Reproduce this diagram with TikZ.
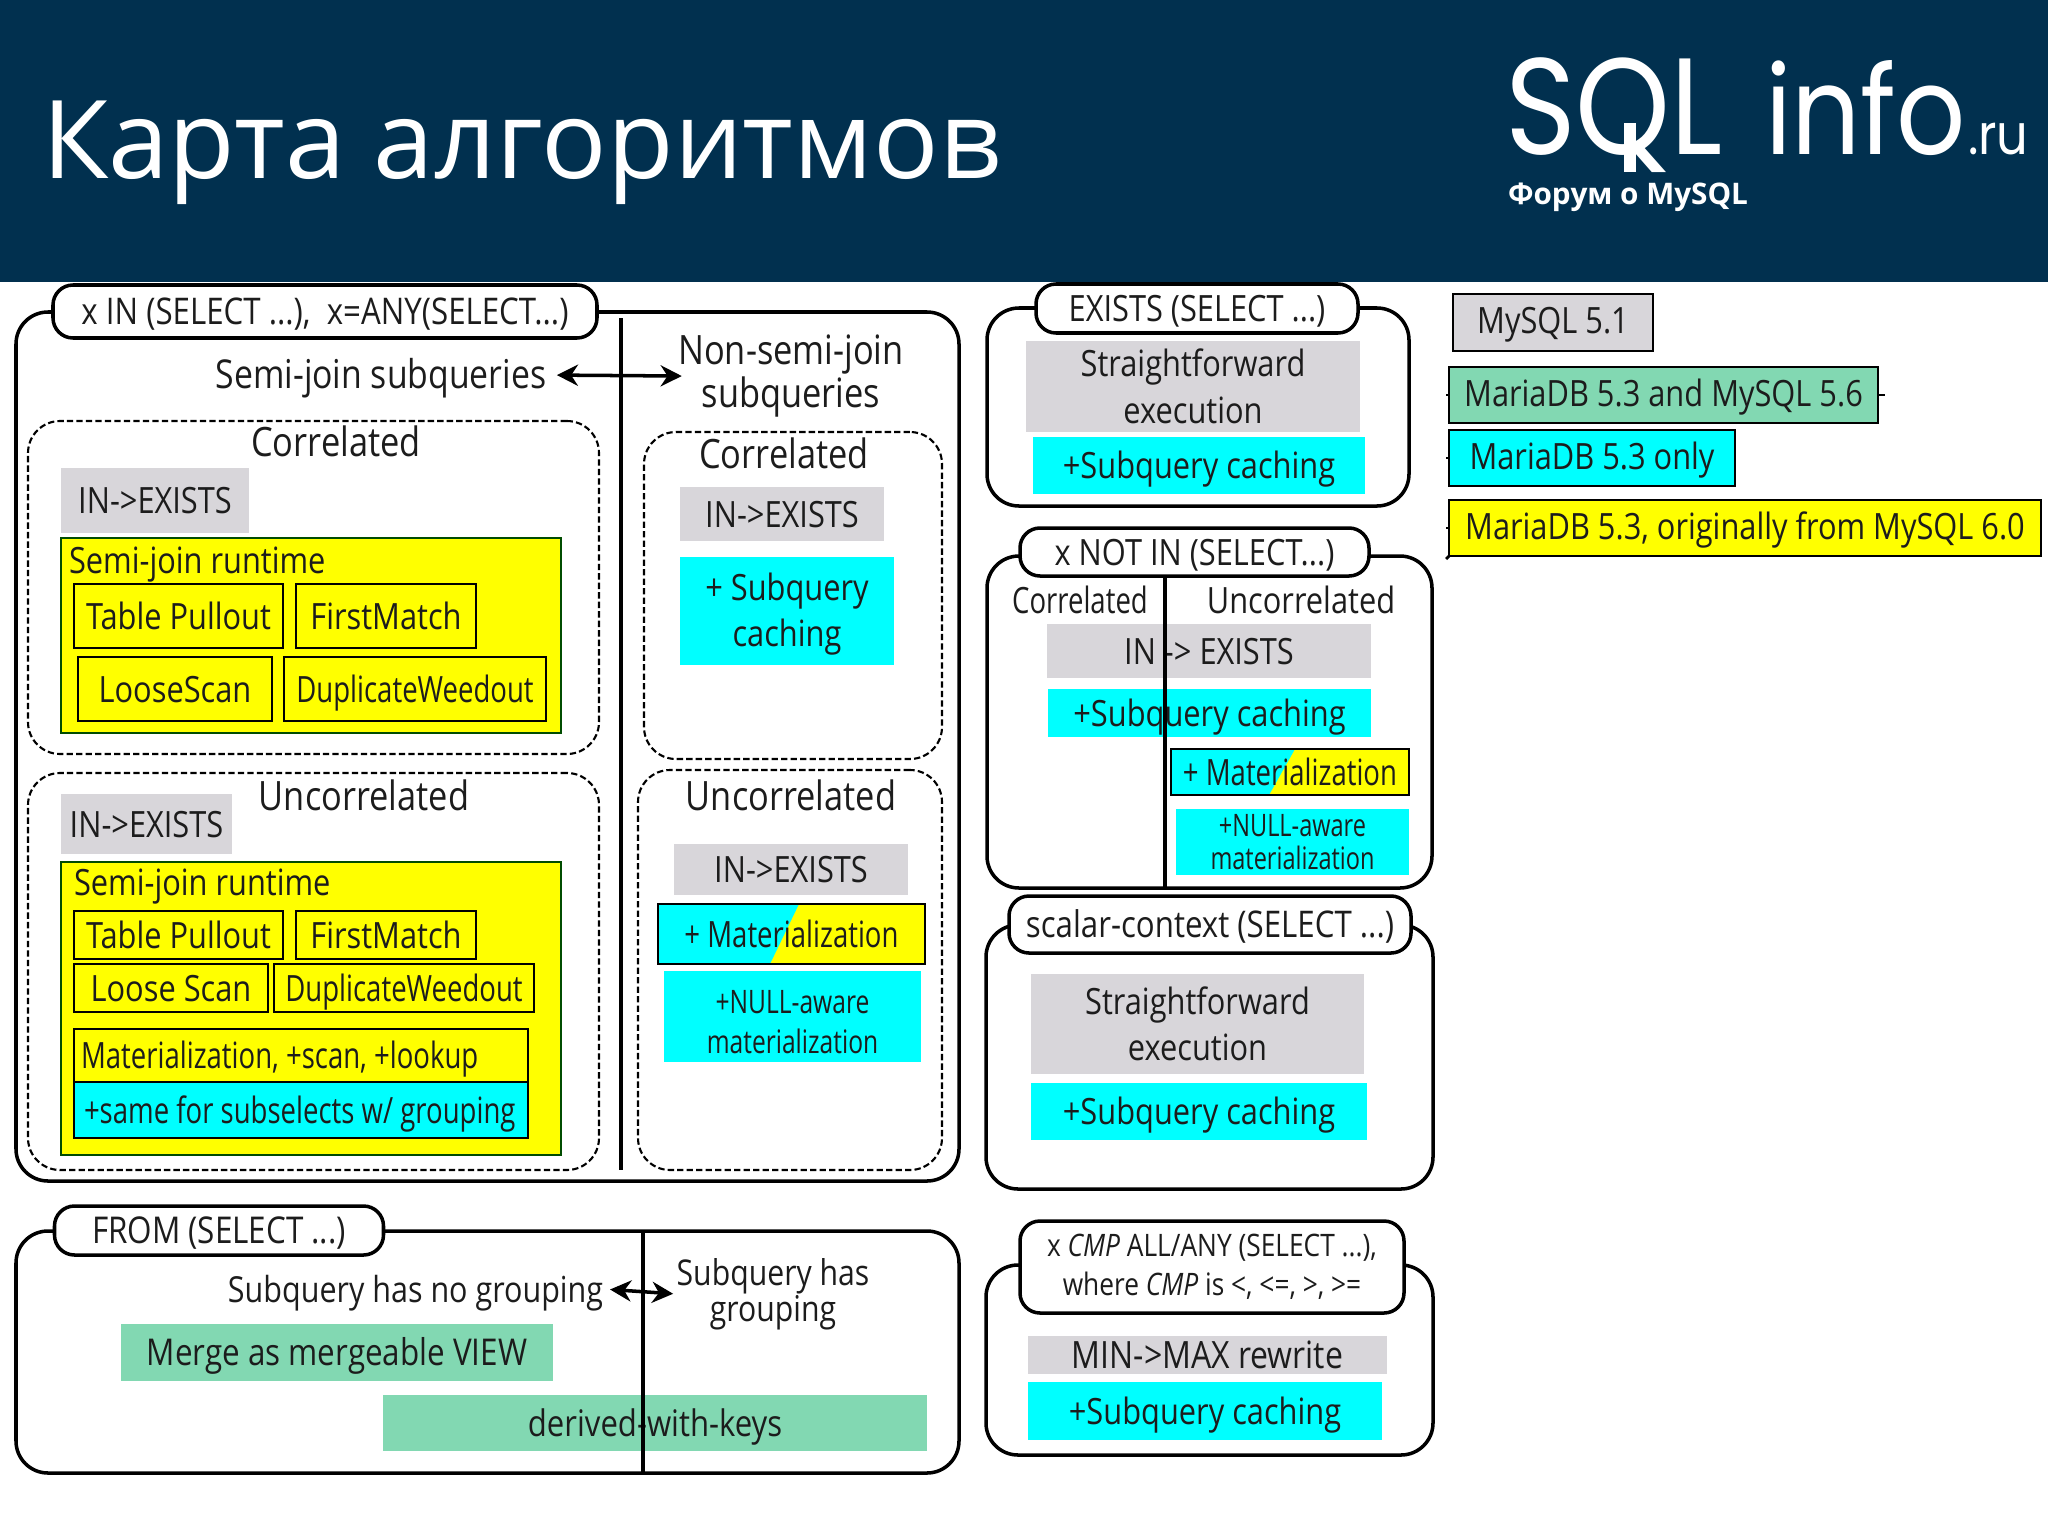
\documentclass[tikz,border=0pt]{standalone}
\usepackage{fontspec}
\setmainfont[FakeStretch=0.85]{Open Sans}
\newfontfamily\wideface{Open Sans}
\newfontfamily\narrowface[FakeStretch=0.76]{Open Sans}
\newfontfamily\logoface[FakeStretch=0.88]{Poppins}
\usetikzlibrary{arrows.meta,positioning,calc}

\definecolor{navy}{HTML}{01304F}
\definecolor{greybox}{HTML}{D8D6DA}
\definecolor{greenbox}{HTML}{82D8B2}
\definecolor{inktext}{HTML}{1C1C1C}
\definecolor{aquabox}{HTML}{00FFFF}
\definecolor{sunfill}{HTML}{FFFF00}

\begin{document}
\begin{tikzpicture}[
    x=0.01cm,y=-0.01cm,
    >={Stealth[length=6pt,width=6pt]},
    sz/.style 2 args={minimum width=#1*0.01cm,minimum height=#2*0.01cm},
    fs/.style={font=\fontsize{#1}{14pt}\selectfont},
    lines/.style 2 args={font=\fontsize{#1}{#2}\selectfont, text height=, text depth=},
    narrow/.style={font=\narrowface\fontsize{10.3pt}{12.4pt}\selectfont},
    every node/.style={inner sep=0pt,outer sep=0pt,align=center,text=inktext,
        text height=7.4pt,text depth=0pt,
        font=\fontsize{10.3pt}{12.4pt}\selectfont},
    framebox/.style={
        draw=black, line width=1pt,
        rectangle, rounded corners=0.32cm
    },
    pill/.style={
        draw=black, line width=1pt,
        rectangle, rounded corners=0.2cm,
        fill=white
    },
    dashbox/.style={
        draw=black, line width=0.6pt, dash pattern=on 1.8pt off 0.9pt,
        rectangle, rounded corners=0.32cm
    },
    greyfill/.style={rectangle, fill=greybox},
    aqua/.style={rectangle, fill=aquabox},
    mint/.style={rectangle, fill=greenbox},
    sunbox/.style={rectangle, fill=sunfill, draw=black!70!green, line width=0.6pt},
    algo/.style={rectangle, fill=sunfill, draw=black, line width=0.8pt},
    halfbox/.style 2 args={
        rectangle, fill=sunfill, draw=black, line width=0.8pt,
        path picture={
            \fill[aquabox] (path picture bounding box.north west) -- ++(#1,0)
                -- ($(path picture bounding box.south west)+(#2,0)$)
                -- (path picture bounding box.south west) -- cycle;
        }
    },
    legendbox/.style={rectangle, draw=black, line width=0.8pt, text height=6.4pt},
    divider/.style={draw=black, line width=0.9pt},
    whitetxt/.style={anchor=base west, text=white}
]
\useasboundingbox (0,0) rectangle (2048,1536);

% ====== header ======
\fill[navy] (0,0) rectangle (2048,282);
\node[whitetxt, font=\wideface\fontsize{30.9pt}{36pt}\selectfont] (title) at (42,178) {Карта алгоритмов};
\node[whitetxt, font=\logoface\fontsize{39pt}{44pt}\selectfont] (logosql) at (1505,154) {SQL};
\fill[white] (1624,123) rectangle (1636,172);
\node[whitetxt, font=\logoface\fontsize{35pt}{44pt}\selectfont] (logoinfo) at (1765,154) {info};
\node[whitetxt, font=\logoface\fontsize{16pt}{20pt}\selectfont] (logoru) at (1968,154) {.ru};
\node[whitetxt, font=\wideface\bfseries\fontsize{8.45pt}{10pt}\selectfont] (logosub) at (1508,204) {Форум о MySQL};

% ====== x IN (SELECT ...) ======
\node[framebox, sz={943}{869}] (inframe) at (487.5,746.5) {};
\node[pill, sz={544}{53}, fs=10.45pt] (inpill) at (325,311.5) {x IN (SELECT ...),\ \ x=ANY(SELECT...)};
\coordinate (indivtop) at (621,318);
\coordinate (indivbot) at (621,1170);
\draw[divider] (indivtop) -- (indivbot);

\node[fs=11.3pt] (semijoin) at (381,375) {Semi-join subqueries};
\node[lines={11.5pt}{10.6pt}] (nonsemi) at (791,376) {Non-semi-join\\subqueries};
\draw[<->, line width=1pt, shorten <=3pt, shorten >=-1pt] (semijoin.east) -- (nonsemi.west);

% semi-join, correlated
\node[dashbox, sz={571}{333}] (sjcor) at (313.5,587.5) {};
\node[fs=11.5pt] (sjcortxt) at (336,443) {Correlated};
\node[greyfill, sz={188}{65}] (sjcorex) at (155,500.5) {IN->EXISTS};
\node[sunbox, sz={500}{195}] (sjcorrun) at (311,635.5) {};
\node[anchor=west] (sjcorrt) at (69,560) {Semi-join runtime};
\node[algo, sz={209}{64}] (sjcortp) at (178.5,616) {Table Pullout};
\node[algo, sz={180}{64}] (sjcorfm) at (386,616) {FirstMatch};
\node[algo, sz={194}{64}] (sjcorls) at (175,689) {LooseScan};
\node[algo, sz={262}{64}, narrow] (sjcordw) at (415,689) {DuplicateWeedout};

% non-semi-join, correlated
\node[dashbox, sz={298}{327}] (nscor) at (793,595.5) {};
\node[fs=11.5pt] (nscortxt) at (784,455) {Correlated};
\node[greyfill, sz={204}{54}] (nscorex) at (782,514) {IN->EXISTS};
\node[aqua, sz={214}{108}, lines={10.3pt}{13.2pt}] (nscorca) at (787,611) {\rule{0pt}{9.6pt}+ Subquery\\caching};

% semi-join, uncorrelated
\node[dashbox, sz={571}{397}] (sjunc) at (313.5,971.5) {};
\node[fs=11.5pt] (sjunctxt) at (364,797) {Uncorrelated};
\node[greyfill, sz={171}{60}] (sjuncex) at (146.5,824) {IN->EXISTS};
\node[sunbox, sz={500}{293}] (sjuncrun) at (311,1008.5) {};
\node[anchor=west] (sjuncrt) at (74,882) {Semi-join runtime};
\node[algo, sz={209}{48}] (sjunctp) at (178.5,935) {Table Pullout};
\node[algo, sz={180}{48}] (sjuncfm) at (386,935) {FirstMatch};
\node[algo, sz={194}{48}] (sjuncls) at (171,988) {Loose Scan};
\node[algo, sz={260}{48}, narrow] (sjuncdw) at (404,988) {DuplicateWeedout};
\node[algo, sz={454}{53}] (sjuncmat) at (301,1055.5) {};
\node[anchor=west, narrow] (sjuncmatt) at (81,1055.5) {Materialization, +scan, +lookup};
\node[algo, fill=aquabox, sz={454}{56}] (sjuncsame) at (301,1110) {};
\node[anchor=west, narrow] (sjuncsamet) at (84,1110) {+same for subselects w/ grouping};

% non-semi-join, uncorrelated
\node[dashbox, sz={304}{400}] (nsunc) at (790,970) {};
\node[fs=11.5pt] (nsunctxt) at (791,797) {Uncorrelated};
\node[greyfill, sz={234}{51}] (nsuncex) at (791,869.5) {IN->EXISTS};
\node[halfbox={141}{112}, sz={267}{60}, narrow] (nsuncmat) at (791.5,934) {+ Materialization};
\node[aqua, sz={257}{91}, lines={9.2pt}{11.4pt}, font=\narrowface\fontsize{9.2pt}{11.4pt}\selectfont] (nsuncnull) at (792.5,1016.5) {\rule{0pt}{10pt}+NULL-aware\\materialization};

% ====== FROM (SELECT ...) ======
\node[framebox, sz={943}{242}] (fromframe) at (487.5,1352) {};
\node[pill, sz={329}{49}, fs=10.5pt] (frompill) at (219,1230.5) {FROM (SELECT ...)};
\node[fs=10.2pt] (nogroup) at (415.5,1289) {Subquery has no grouping};
\node[lines={10.1pt}{10.2pt}] (hasgroup) at (773,1294) {Subquery has\\grouping};
\draw[<->, line width=1pt, shorten <=2pt, shorten >=1pt] (nogroup.east) -- (hasgroup.west);
\node[mint, sz={432}{57}, fs=10.5pt] (frommerge) at (337,1352.5) {Merge as mergeable VIEW};
\node[mint, sz={544}{56}, fs=10.4pt] (fromkeys) at (655,1423) {derived-with-keys};
\coordinate (fromdivtop) at (643,1231);
\coordinate (fromdivbot) at (643,1473);
\draw[divider] (fromdivtop) -- (fromdivbot);

% ====== EXISTS (SELECT ...) ======
\node[framebox, sz={422}{198}] (exframe) at (1198,407) {};
\node[pill, sz={322}{49}] (expill) at (1197,308.5) {EXISTS (SELECT ...)};
\node[greyfill, sz={334}{91}, lines={10.3pt}{13.4pt}] (exstraight) at (1193,386.5) {Straightforward\\execution};
\node[aqua, sz={332}{57}] (excache) at (1199,465.5) {+Subquery caching};

% ====== x NOT IN (SELECT...) ======
\node[framebox, sz={445}{332}] (niframe) at (1209.5,722) {};
\node[pill, sz={349}{48}] (nipill) at (1194.5,552) {x NOT IN (SELECT...)};
\node[narrow] (nicor) at (1080,600) {Correlated};
\node (niunc) at (1301,600) {Uncorrelated};
\node[greyfill, sz={324}{54}] (niex) at (1209,651) {IN -> EXISTS};
\node[aqua, sz={323}{48}] (nicache) at (1209.5,713) {+Subquery caching};
\node[halfbox={124}{98}, sz={238}{46}, narrow] (nimat) at (1290,772) {+ Materialization};
\node[aqua, sz={233}{66}, lines={8.8pt}{9.2pt}, font=\narrowface\fontsize{8.8pt}{9.2pt}\selectfont] (ninull) at (1292.5,842) {+NULL-aware\\materialization};
\coordinate (nidivbot) at (1165,888);
\draw[divider] (nipill.south -| nidivbot) -- (nidivbot);

% ====== scalar-context (SELECT ...) ======
\node[framebox, sz={447}{264}] (scframe) at (1209.5,1057) {};
\node[pill, sz={402}{57}, fs=10.45pt] (scpill) at (1210,924.5) {scalar-context (SELECT ...)};
\node[greyfill, sz={333}{100}, lines={10.3pt}{13.2pt}] (scstraight) at (1197.5,1024) {Straightforward\\execution};
\node[aqua, sz={336}{57}] (sccache) at (1199,1111.5) {+Subquery caching};

% ====== x CMP ALL/ANY (SELECT ...) ======
\node[framebox, sz={447}{190}] (cmpframe) at (1209.5,1360) {};
\node[pill, sz={384}{92}, lines={8.8pt}{11.2pt}] (cmppill) at (1212,1267) {x \textit{CMP} ALL/ANY (SELECT ...),\\where \textit{CMP} is <, <=, >, >=};
\node[greyfill, sz={359}{38}, fs=10.7pt] (cmpmin) at (1207.5,1355) {MIN->MAX rewrite};
\node[aqua, sz={354}{58}] (cmpcache) at (1205,1411) {+Subquery caching};

% ====== legend ======
\node[legendbox, fill=greybox, sz={200}{57}] (legmysql) at (1553,322.5) {MySQL 5.1};
\node[legendbox, fill=greenbox, sz={429}{56}] (legboth) at (1663.5,395) {MariaDB 5.3 and MySQL 5.6};
\node[legendbox, fill=aquabox, sz={286}{56}] (legonly) at (1592,458) {MariaDB 5.3 only};
\node[legendbox, fill=sunfill, sz={592}{56}] (legsix) at (1745,528) {MariaDB 5.3, originally from MySQL 6.0};
\draw[line width=0.8pt] (legboth.west) -- ++(-3,0);
\draw[line width=0.8pt] (legboth.east) -- ++(7,0);
\draw[line width=0.8pt] (legonly.west) -- ++(-3,0);
\draw[line width=0.8pt] (legsix.west) -- ++(-3,0);
\draw[line width=0.8pt] (legsix.south west) -- ++(-3,3);

\end{tikzpicture}
\end{document}
